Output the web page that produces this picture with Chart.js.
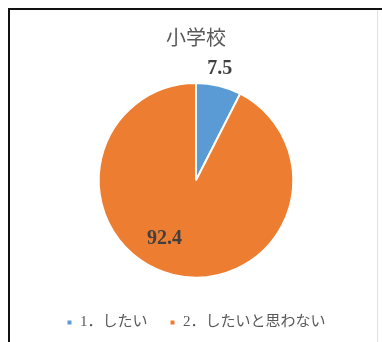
<!DOCTYPE html>
<html lang="ja">
<head>
<meta charset="utf-8">
<script src="https://cdn.jsdelivr.net/npm/chart.js@4.4.1/dist/chart.umd.min.js"></script>
<style>
  html, body { margin: 0; padding: 0; background: #fff; }
  body { width: 382px; height: 342px; position: relative; overflow: hidden; }
  #frame { position: absolute; left: 8px; top: 8px; width: 374px; height: 334px;
           border-left: 2px solid #111; border-top: 2px solid #111; box-sizing: border-box; }
  #inner { position: absolute; left: 377px; top: 10px; width: 1px; height: 332px; background: #e2e2e2; }
  #wrap { position: absolute; left: 0; top: 0; width: 382px; height: 342px; }
</style>
</head>
<body>
<div id="frame"></div>
<div id="inner"></div>
<div id="wrap"><canvas id="c" width="382" height="342"></canvas></div>
<script>
// 小学校：「したい」「したいと思わない」の割合（%）
const categories = ['1．したい', '2．したいと思わない'];
const values = [7.5, 92.4];
const sliceColors = ['#5B9BD5', '#ED7D31'];
const chartTitle = '小学校';

// Value label placement: radius as a fraction of the pie radius, plus an angular shift (degrees)
const labelRadius = [1.17, 0.68];
const labelShift = [-1.5, 15];

const valueLabels = {
  id: 'valueLabels',
  afterDatasetsDraw(chart) {
    const ctx = chart.ctx;
    const meta = chart.getDatasetMeta(0);
    ctx.save();
    ctx.font = 'bold 20px "Liberation Serif", "DejaVu Serif", serif';
    ctx.fillStyle = '#404040';
    ctx.textAlign = 'center';
    ctx.textBaseline = 'middle';
    meta.data.forEach((arc, i) => {
      const p = arc.getProps(['x', 'y', 'startAngle', 'endAngle', 'outerRadius'], true);
      const a = (p.startAngle + p.endAngle) / 2 + labelShift[i] * Math.PI / 180;
      const r = p.outerRadius * labelRadius[i];
      ctx.fillText(String(values[i]), p.x + Math.cos(a) * r, p.y + Math.sin(a) * r);
    });
    ctx.restore();
  }
};

new Chart(document.getElementById('c'), {
  type: 'pie',
  data: {
    labels: categories,
    datasets: [{
      data: values,
      backgroundColor: sliceColors,
      borderColor: '#ffffff',
      borderWidth: 2
    }]
  },
  options: {
    responsive: false,
    animation: false,
    layout: { padding: { left: 10, right: 0, top: 0, bottom: 2 } },
    plugins: {
      title: {
        display: true,
        text: chartTitle,
        color: '#595959',
        font: { family: '"Noto Sans CJK JP", sans-serif', size: 20, weight: 'normal' },
        padding: { top: 25, bottom: 33 }
      },
      legend: {
        position: 'bottom',
        title: {
          display: true,
          text: ' ',
          font: { size: 2 },
          padding: { top: 12, bottom: 0 }
        },
        labels: {
          boxWidth: 6,
          boxHeight: 6,
          color: '#595959',
          padding: 22,
          font: { family: '"Liberation Serif", "Noto Sans CJK JP", serif', size: 15 }
        }
      },
      tooltip: { enabled: false }
    }
  },
  plugins: [valueLabels]
});
</script>
</body>
</html>
